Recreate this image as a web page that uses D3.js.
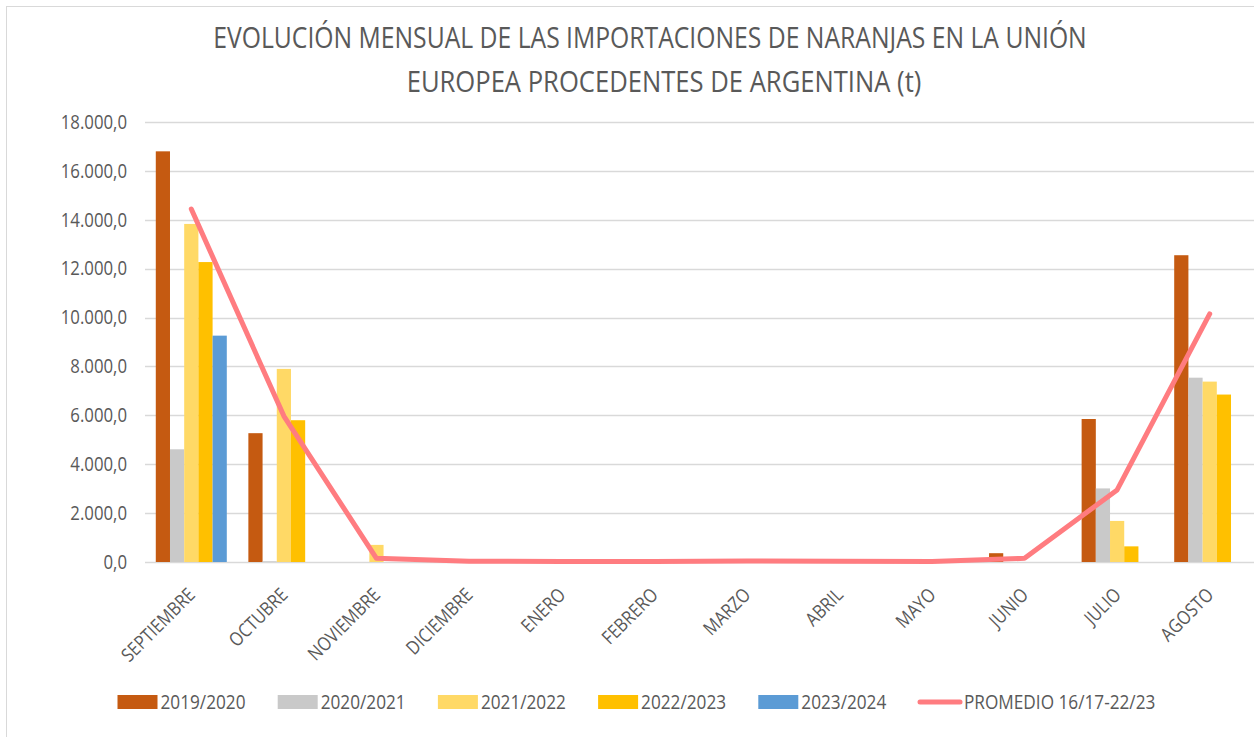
<!DOCTYPE html>
<html>
<head>
  <meta charset="utf-8">
  <script src="https://d3js.org/d3.v7.min.js"></script>
</head>
<style>
  body { margin: 0; background: #fff; }
  text { font-family: "Open Sans", sans-serif; fill: #595959; }
</style>
<body>
  <svg width="1254" height="737"></svg>
  <script>
    // Data
    const months = ['SEPTIEMBRE', 'OCTUBRE', 'NOVIEMBRE', 'DICIEMBRE', 'ENERO', 'FEBRERO',
                    'MARZO', 'ABRIL', 'MAYO', 'JUNIO', 'JULIO', 'AGOSTO'];
    const seasons = ['2019/2020', '2020/2021', '2021/2022', '2022/2023', '2023/2024'];
    const s1920 = [16800, 5270, 0, 0, 0, 0, 0, 0, 0, 360, 5850, 12550];
    const s2021 = [4610, 30, 0, 0, 0, 0, 0, 0, 0, 0, 3010, 7540];
    const s2122 = [13830, 7900, 700, 0, 0, 0, 0, 0, 0, 0, 1680, 7380];
    const s2223 = [12270, 5800, 0, 0, 0, 0, 0, 0, 0, 0, 640, 6850];
    const s2324 = [9260, 0, 0, 0, 0, 0, 0, 0, 0, 0, 0, 0];
    const promedio = [14440, 5970, 150, 30, 20, 20, 40, 30, 20, 150, 2950, 10150];
    const promedioLabel = 'PROMEDIO 16/17-22/23';
    const yTicks = [0, 2000, 4000, 6000, 8000, 10000, 12000, 14000, 16000, 18000];
    const titleLines = ['EVOLUCIÓN MENSUAL DE LAS IMPORTACIONES DE NARANJAS EN LA UNIÓN',
                        'EUROPEA PROCEDENTES DE ARGENTINA (t)'];

    const seriesValues = [s1920, s2021, s2122, s2223, s2324];
    const colors = ['#C55A11', '#C9C9C9', '#FFD966', '#FFC000', '#5B9BD5'];
    const lineColor = '#FF7C80';

    const svg = d3.select('svg');

    // chart border (Excel frame, cut on right/bottom)
    svg.append('rect')
      .attr('x', 6.5).attr('y', 6.5)
      .attr('width', 1260).attr('height', 740)
      .attr('fill', 'none').attr('stroke', '#d9d9d9');

    const plot = {left: 145, right: 1256, top: 122, bottom: 562};

    const x = d3.scaleBand()
      .domain(months)
      .range([plot.left, plot.right])
      .padding(0);

    const gap = x.bandwidth() * 0.233;
    const x1 = d3.scaleBand()
      .domain(seasons)
      .range([gap / 2, x.bandwidth() - gap / 2]);

    const y = d3.scaleLinear()
      .domain([0, 18000])
      .range([plot.bottom, plot.top]);

    const fmt = v => d3.format(',.1f')(v).replace(/,/g, '#').replace('.', ',').replace(/#/g, '.');

    // gridlines
    svg.append('g')
      .selectAll('line')
      .data(yTicks)
      .join('line')
      .attr('x1', plot.left).attr('x2', plot.right)
      .attr('y1', d => Math.round(y(d)) + 0.5)
      .attr('y2', d => Math.round(y(d)) + 0.5)
      .attr('stroke', '#d9d9d9')
      .attr('stroke-width', 1.5);

    // y labels
    svg.append('g')
      .selectAll('text')
      .data(yTicks)
      .join('text')
      .attr('class', 'squeeze')
      .attr('x', 127)
      .attr('y', d => y(d))
      .attr('dy', '0.35em')
      .attr('text-anchor', 'end')
      .style('font-size', '19.5px')
      .text(d => fmt(d));

    // bars
    seriesValues.forEach((vals, si) => {
      svg.append('g')
        .selectAll('rect')
        .data(vals.map((v, i) => ({month: months[i], v})))
        .join('rect')
        .attr('x', d => x(d.month) + x1(seasons[si]))
        .attr('width', x1.bandwidth())
        .attr('y', d => y(d.v))
        .attr('height', d => y(0) - y(d.v))
        .attr('fill', colors[si]);
    });

    // promedio line
    const line = d3.line()
      .x((d, i) => x(months[i]) + x.bandwidth() / 2)
      .y(d => y(d));

    svg.append('path')
      .datum(promedio)
      .attr('d', line)
      .attr('fill', 'none')
      .attr('stroke', lineColor)
      .attr('stroke-width', 5)
      .attr('stroke-linecap', 'round')
      .attr('stroke-linejoin', 'round');

    // x labels
    svg.append('g')
      .selectAll('text')
      .data(months)
      .join('text')
      .attr('class', 'squeeze')
      .attr('text-anchor', 'end')
      .attr('transform', d => `translate(${x(d) + x.bandwidth() / 2 + 5},${plot.bottom + 34}) rotate(-45)`)
      .style('font-size', '19px')
      .text(d => d);

    // title: condensed horizontally to the reference width
    const titlePos = [{cx: 650, y: 48, w: 874}, {cx: 664, y: 92, w: 515}];
    svg.append('g')
      .selectAll('text')
      .data(titleLines)
      .join('text')
      .attr('text-anchor', 'middle')
      .style('font-size', '30px')
      .text(d => d)
      .each(function(d, i) {
        const p = titlePos[i];
        const sx = p.w / this.getComputedTextLength();
        d3.select(this).attr('transform', `translate(${p.cx},${p.y}) scale(${sx},1)`);
      });

    // legend
    const legend = svg.append('g');
    seasons.forEach((s, i) => {
      const lx = 117.5 + i * 160.2;
      legend.append('rect')
        .attr('x', lx).attr('y', 695)
        .attr('width', 40).attr('height', 14)
        .attr('fill', colors[i]);
      legend.append('text')
        .attr('class', 'squeeze')
        .attr('x', lx + 43).attr('y', 702)
        .attr('dy', '0.35em')
        .style('font-size', '20px')
        .text(s);
    });
    legend.append('line')
      .attr('x1', 920).attr('x2', 960)
      .attr('y1', 702).attr('y2', 702)
      .attr('stroke', lineColor)
      .attr('stroke-width', 5)
      .attr('stroke-linecap', 'round');
    legend.append('text')
      .attr('class', 'squeeze')
      .attr('x', 964).attr('y', 702)
      .attr('dy', '0.35em')
      .style('font-size', '20px')
      .text(promedioLabel);

    // narrow the Open Sans glyphs a bit to match the condensed look
    svg.selectAll('text.squeeze').each(function() {
      const len = this.getComputedTextLength();
      d3.select(this)
        .attr('textLength', len * 0.86)
        .attr('lengthAdjust', 'spacingAndGlyphs');
    });
  </script>
</body>
</html>
